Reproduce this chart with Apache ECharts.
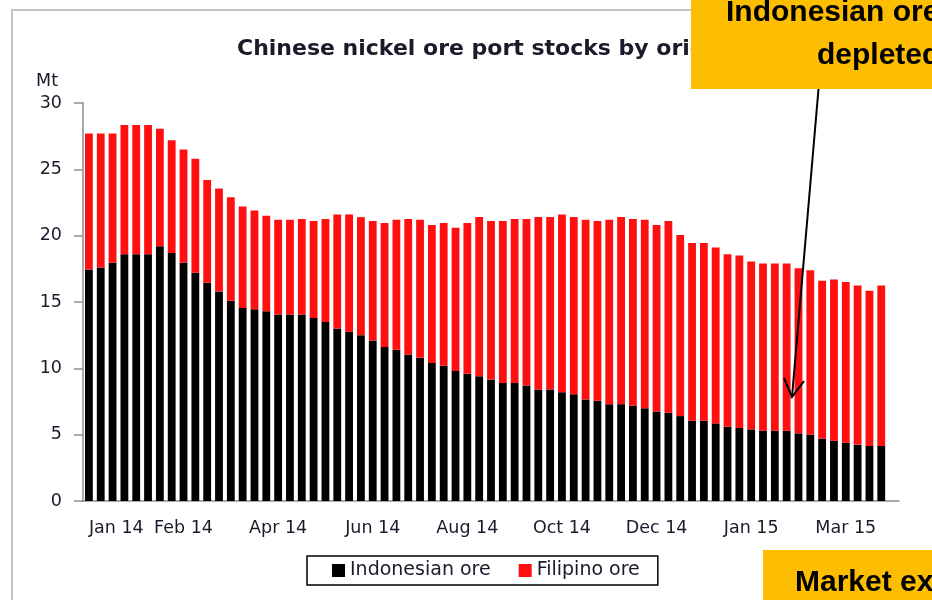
<!DOCTYPE html>
<html>
<head>
<meta charset="utf-8">
<title>Chinese nickel ore port stocks by origin</title>
<script src="https://cdn.jsdelivr.net/npm/echarts@6.0.0/dist/echarts.min.js"></script>
<style>
  html, body { margin: 0; padding: 0; background: #ffffff; }
  #chart { width: 932px; height: 600px; }
</style>
</head>
<body>
<div id="chart"></div>
<script>
// Weekly port stocks, million tonnes (Jan 2014 - Mar 2015)
const tickLabels = ['Jan 14', 'Feb 14', 'Apr 14', 'Jun 14', 'Aug 14', 'Oct 14', 'Dec 14', 'Jan 15', 'Mar 15'];
const weeksPerLabel = 8;

const indonesianOre = [
  17.45, 17.6, 17.95, 18.6, 18.6, 18.6, 19.2, 18.7, 17.95, 17.2, 16.45, 15.8, 15.1, 14.55,
  14.45, 14.3, 14.05, 14.05, 14.05, 13.8, 13.5, 13.0, 12.75, 12.5, 12.1, 11.6, 11.4, 11.05,
  10.8, 10.4, 10.2, 9.8, 9.6, 9.4, 9.15, 8.9, 8.9, 8.7, 8.4, 8.4, 8.2, 8.05,
  7.65, 7.55, 7.3, 7.3, 7.2, 7.0, 6.75, 6.65, 6.4, 6.05, 6.05, 5.85, 5.6, 5.5,
  5.4, 5.3, 5.3, 5.3, 5.1, 5.0, 4.7, 4.55, 4.4, 4.25, 4.15, 4.15
];

const filipinoOre = [
  10.25, 10.1, 9.75, 9.75, 9.75, 9.75, 8.85, 8.5, 8.55, 8.6, 7.75, 7.75, 7.8, 7.65,
  7.45, 7.2, 7.15, 7.15, 7.2, 7.3, 7.75, 8.6, 8.85, 8.9, 9.0, 9.35, 9.8, 10.2,
  10.4, 10.4, 10.75, 10.8, 11.35, 12.0, 11.95, 12.2, 12.35, 12.55, 13.0, 13.0, 13.4, 13.35,
  13.55, 13.55, 13.9, 14.1, 14.05, 14.2, 14.05, 14.45, 13.65, 13.4, 13.4, 13.25, 13.0, 13.0,
  12.65, 12.6, 12.6, 12.6, 12.45, 12.4, 11.9, 12.15, 12.1, 12.0, 11.7, 12.1
];

// one spare week slot at the end of the axis
const weekSlots = indonesianOre.length + 1;
const weeks = Array.from({ length: weekSlots }, (_, i) => 'W' + (i + 1));

const axisGrey = '#8c8c8c';
const labelFont = 'DejaVu Sans';
const calloutFont = "'Liberation Sans', Arial, sans-serif";

const chart = echarts.init(document.getElementById('chart'), null, { renderer: 'canvas' });

chart.setOption({
  animation: false,
  backgroundColor: '#ffffff',
  title: {
    text: 'Chinese nickel ore port stocks by origin',
    left: 237,
    top: 38,
    padding: 0,
    textStyle: { fontFamily: labelFont, fontSize: 22, fontWeight: 'bold', color: '#1a1a2a' }
  },
  legend: {
    left: 307,
    top: 556,
    padding: [5, 18, 5, 25],
    itemGap: 28,
    itemWidth: 13,
    itemHeight: 13,
    icon: 'rect',
    borderColor: '#000000',
    borderWidth: 1.5,
    textStyle: { fontFamily: labelFont, fontSize: 19, color: '#1a1a2a' },
    data: ['Indonesian ore', 'Filipino ore']
  },
  grid: { left: 83, right: 33, top: 103, bottom: 99, containLabel: false },
  xAxis: {
    type: 'category',
    data: weeks,
    boundaryGap: true,
    axisLine: { lineStyle: { color: axisGrey, width: 1.5 } },
    axisTick: { interval: weeksPerLabel - 1, length: 7, lineStyle: { color: axisGrey, width: 1.5 } },
    axisLabel: {
      interval: weeksPerLabel - 1,
      margin: 18,
      alignMinLabel: 'left',
      fontFamily: labelFont,
      fontSize: 17.5,
      color: '#1a1a2a',
      formatter: (value, index) => tickLabels[index / weeksPerLabel] || ''
    },
    splitLine: { show: false }
  },
  yAxis: {
    type: 'value',
    min: 0,
    max: 30,
    interval: 5,
    name: 'Mt',
    nameLocation: 'end',
    nameGap: 13,
    nameTextStyle: {
      fontFamily: labelFont, fontSize: 17.5, color: '#1a1a2a',
      align: 'right', verticalAlign: 'bottom', padding: [0, 25, 0, 0]
    },
    axisLine: { show: true, lineStyle: { color: axisGrey, width: 1.5 } },
    axisTick: { show: true, length: 9, lineStyle: { color: axisGrey, width: 1.5 } },
    axisLabel: { margin: 21, fontFamily: labelFont, fontSize: 17.5, color: '#1a1a2a' },
    splitLine: { show: false }
  },
  series: [
    {
      name: 'Indonesian ore',
      type: 'bar',
      stack: 'stocks',
      data: indonesianOre,
      barWidth: '66%',
      itemStyle: { color: '#000000' }
    },
    {
      name: 'Filipino ore',
      type: 'bar',
      stack: 'stocks',
      data: filipinoOre,
      barWidth: '66%',
      itemStyle: { color: '#ff1010' }
    }
  ],
  graphic: [
    // chart frame
    {
      type: 'rect', z: -10, silent: true,
      shape: { x: 12, y: 10, width: 1000, height: 700 },
      style: { fill: 'none', stroke: '#c4c4c4', lineWidth: 2 }
    },
    // callout box, top right
    {
      type: 'rect', z: 100, silent: true,
      shape: { x: 691, y: -2, width: 260, height: 91 },
      style: { fill: '#fdbd00' }
    },
    {
      type: 'text', z: 101, silent: true, x: 726, y: 13,
      style: { text: 'Indonesian ore', font: 'bold 30px ' + calloutFont, fill: '#000000', align: 'left', verticalAlign: 'middle' }
    },
    {
      type: 'text', z: 101, silent: true, x: 817, y: 56,
      style: { text: 'depleted', font: 'bold 30px ' + calloutFont, fill: '#000000', align: 'left', verticalAlign: 'middle' }
    },
    // pointer down to the Indonesian stocks
    {
      type: 'line', z: 102, silent: true,
      shape: { x1: 818.5, y1: 89, x2: 792, y2: 397 },
      style: { stroke: '#000000', lineWidth: 2 }
    },
    {
      type: 'polyline', z: 102, silent: true,
      shape: { points: [[784, 378], [792, 397], [804, 381]] },
      style: { stroke: '#000000', lineWidth: 2, fill: 'none' }
    },
    // callout box, bottom right
    {
      type: 'rect', z: 100, silent: true,
      shape: { x: 763, y: 550, width: 200, height: 60 },
      style: { fill: '#fdbd00' }
    },
    {
      type: 'text', z: 101, silent: true, x: 795, y: 583,
      style: { text: 'Market ex', font: 'bold 30px ' + calloutFont, fill: '#000000', align: 'left', verticalAlign: 'middle' }
    }
  ]
});
</script>
</body>
</html>
